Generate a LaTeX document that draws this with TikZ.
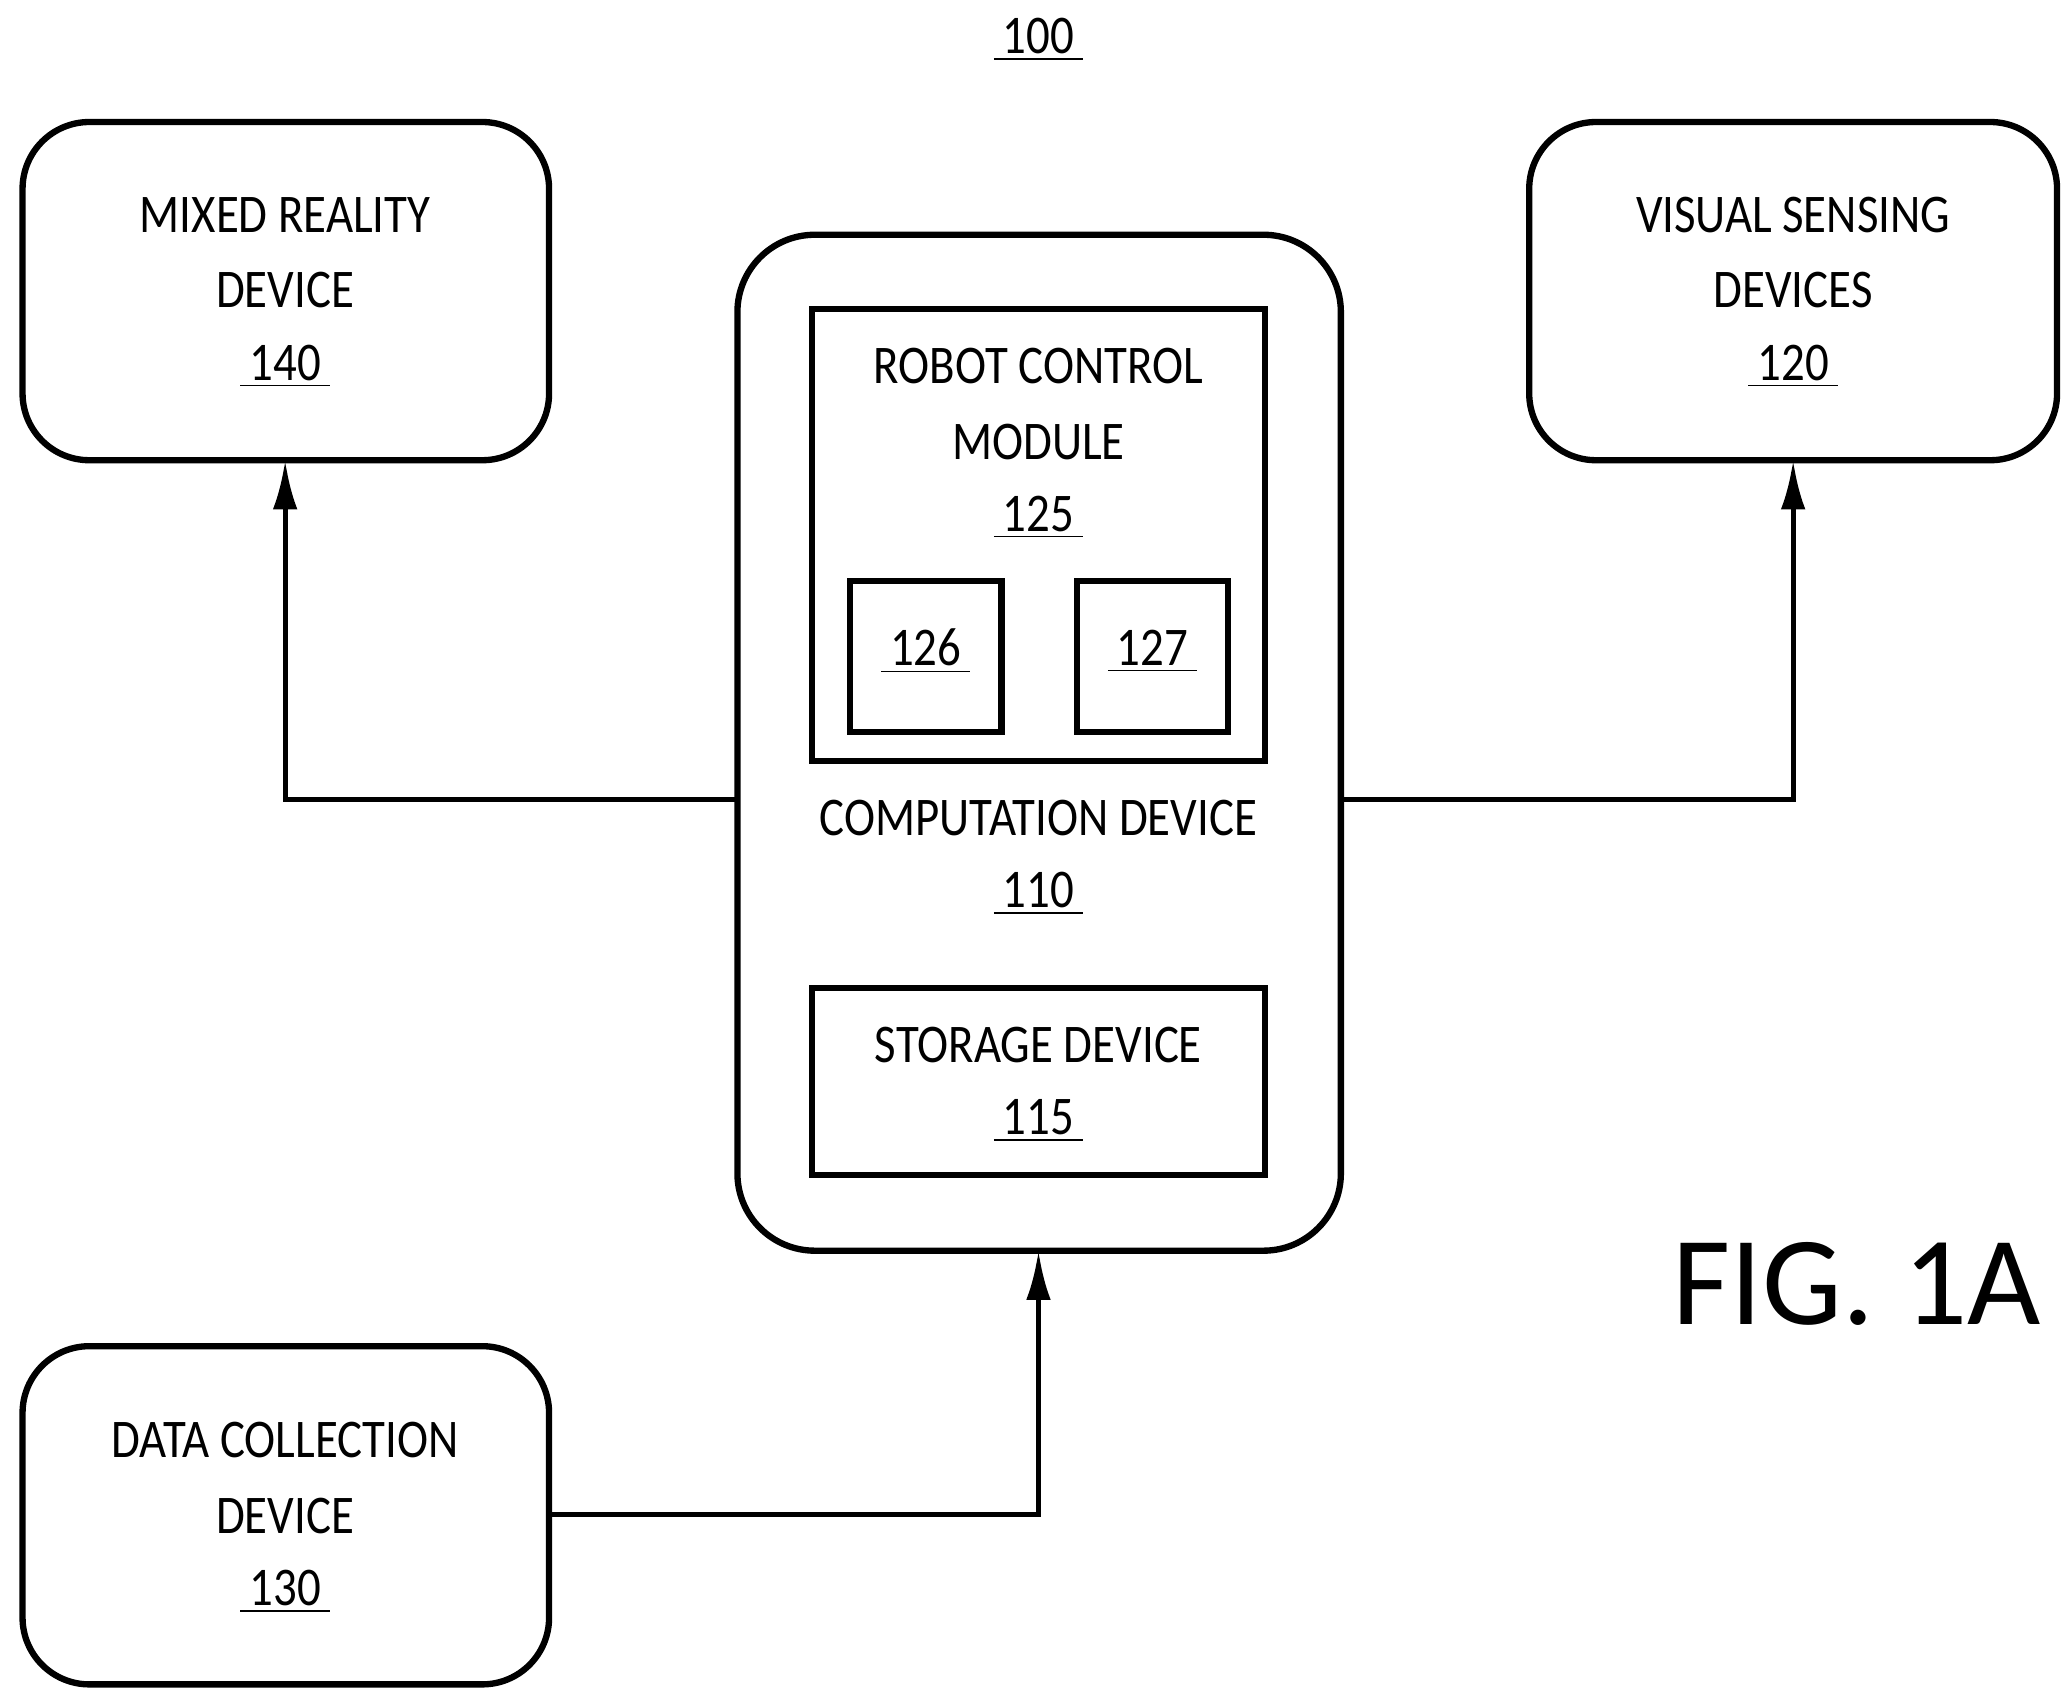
\documentclass[tikz,border=0pt]{standalone}
\usepackage{fontspec}
\setmainfont{Carlito}[FakeStretch=0.86]
\newfontfamily\figfont{Carlito}
\usetikzlibrary{arrows.meta}
\newcommand{\uln}[1]{\underline{\,#1\,}}
\begin{document}
\begin{tikzpicture}[x=0.013263cm,y=-0.013263cm,
  box/.style={draw,line width=1.8pt,rounded corners=19pt},
  sq/.style={draw,line width=1.8pt},
  lab/.style={font=\fontsize{15.5}{18}\selectfont,inner sep=0pt},
  conn/.style={line width=1.5pt,-{Latex[length=14pt,width=7pt]}}]
\useasboundingbox (0,0) rectangle (1560,1281);
\node[lab] (t100) at (783,30) {\uln{100}};
\draw[box] (17,92) rectangle (414,347);
\coordinate (mrb) at (215,347);
\node[lab] (mr1) at (215,162) {MIXED REALITY};
\node[lab] (mr2) at (215,219) {DEVICE};
\node[lab] (mr3) at (215,276) {\uln{140}};
\draw[box] (1153,92) rectangle (1551,347);
\coordinate (vsb) at (1352,347);
\node[lab] (vs1) at (1352,162) {VISUAL SENSING};
\node[lab] (vs2) at (1352,219) {DEVICES};
\node[lab] (vs3) at (1352,276) {\uln{120}};
\draw[box,rounded corners=22pt] (556,177) rectangle (1011,943);
\coordinate (cl) at (556,603);
\coordinate (cr) at (1011,603);
\coordinate (cb) at (783,943);
\draw[sq] (612,233) rectangle (954,574);
\node[lab] (r1) at (783,276) {ROBOT CONTROL};
\node[lab] (r2) at (783,333) {MODULE};
\node[lab] (r3) at (783,390) {\uln{125}};
\draw[sq] (641,438) rectangle (755,552);
\node[lab] (n126) at (698,491) {\uln{126}};
\draw[sq] (812,438) rectangle (926,552);
\node[lab] (n127) at (869,491) {\uln{127}};
\node[lab] (c1) at (783,617) {COMPUTATION DEVICE};
\node[lab] (c2) at (783,674) {\uln{110}};
\draw[sq] (612,745) rectangle (954,886);
\node[lab] (s1) at (783,788) {STORAGE DEVICE};
\node[lab] (s2) at (783,845) {\uln{115}};
\draw[box] (17,1015) rectangle (414,1270);
\coordinate (dr) at (414,1142);
\node[lab] (d1) at (215,1086) {DATA COLLECTION};
\node[lab] (d2) at (215,1143) {DEVICE};
\node[lab] (d3) at (215,1200) {\uln{130}};
\node[inner sep=0pt,font=\figfont\fontsize{36}{40}\selectfont] (fig) at (1400,968) {FIG. 1A};
\draw[conn] (cl) -| (mrb);
\draw[conn] (cr) -| (vsb);
\draw[conn] (dr) -| (cb);
\end{tikzpicture}
\end{document}
